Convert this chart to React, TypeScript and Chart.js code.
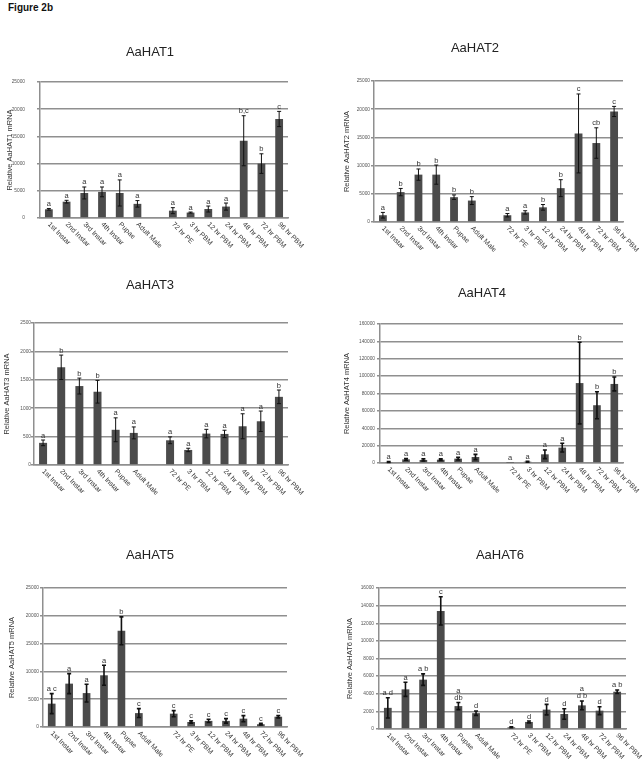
import React, { useEffect, useRef } from "react";
import { Chart, registerables } from "chart.js";

Chart.register(...registerables);

const categories = [
  "1st Instar", "2nd Instar", "3rd Instar", "4th Instar", "Pupae", "Adult Male", "",
  "72 hr PE", "3 hr PBM", "12 hr PBM", "24 hr PBM", "48 hr PBM", "72 hr PBM", "96 hr PBM",
];

const hat1Values = [1600, 3000, 4600, 4800, 4600, 2600, null, 1350, 1000, 1650, 2100, 14200, 10000, 18200];
const hat1Errors = [150, 250, 1100, 900, 2400, 600, null, 550, 100, 550, 650, 4600, 1800, 1400];
const hat1Letters = ["a", "a", "a", "a", "a", "a", "", "a", "a", "a", "a", "b,c", "b", "c"];

const hat2Values = [1200, 5300, 8400, 8400, 4400, 3800, null, 1200, 1700, 2600, 6000, 15700, 14000, 19600];
const hat2Errors = [500, 650, 1000, 1700, 400, 700, null, 300, 300, 500, 1500, 7000, 2700, 900];
const hat2Letters = ["a", "b", "b", "b", "b", "b", "", "a", "a", "b", "b", "c", "cb", "c"];

const hat3Values = [390, 1720, 1390, 1290, 620, 565, null, 435, 265, 553, 547, 682, 770, 1200];
const hat3Errors = [50, 215, 140, 200, 210, 105, null, 60, 30, 75, 65, 220, 180, 120];
const hat3Letters = ["a", "b", "b", "b", "a", "a", "", "a", "a", "a", "a", "a", "a", "b"];

const hat4Values = [1100, 4200, 3500, 3800, 5000, 6900, null, 300, 1500, 10000, 17700, 92000, 66500, 91000];
const hat4Errors = [500, 1000, 1200, 1000, 1500, 3000, null, 0, 500, 5000, 5000, 47000, 15500, 8000];
const hat4Letters = ["a", "a", "a", "a", "a", "a", "", "a", "a", "a", "a", "b", "b", "b"];

const hat5Values = [4200, 7800, 6100, 9300, 17300, 2500, null, 2400, 900, 1100, 1100, 1500, 500, 1850];
const hat5Errors = [1800, 1800, 1600, 1800, 2500, 800, null, 550, 200, 300, 400, 550, 150, 200];
const hat5Letters = ["a c", "a", "a", "a", "b", "c", "", "c", "c", "c", "c", "c", "c", "c"];

const hat6Values = [2400, 4500, 5600, 13400, 2600, 1800, null, 190, 800, 2200, 1700, 2680, 2080, 4230];
const hat6Errors = [1150, 800, 650, 1600, 400, 250, null, 50, 100, 600, 600, 500, 450, 200];
const hat6Letters = ["a d", "a", "a b", "c", "a\ndb", "d", "", "d", "d", "d", "d", "a\nd b", "d", "a b"];

const FONT = "'Liberation Sans', Arial, Helvetica, sans-serif";
const BAR = "#4b4b4b";
const GRID = "#8f8f8f";
const TEXT = "#333333";

type Box = { left: number; top: number; width: number; height: number };
type Plot = { l: number; r: number; t: number; b: number };
type PanelDef = {
  name: string;
  values: (number | null)[];
  errors: (number | null)[];
  letters: string[];
  max: number;
  step: number;
  box: Box;
  plot: Plot;
  titleX: number;
  titleY: number;
  yTitleX: number;
  tickPad: number;
  errWidth: number;
};

const panels: PanelDef[] = [
  {
    name: "AaHAT1", values: hat1Values, errors: hat1Errors, letters: hat1Letters,
    max: 25000, step: 5000,
    box: { left: 0, top: 30, width: 320, height: 232 },
    plot: { l: 40, r: 288, t: 82, b: 218 },
    titleX: 150, titleY: 52, yTitleX: 10, tickPad: 12, errWidth: 1,
  },
  {
    name: "AaHAT2", values: hat2Values, errors: hat2Errors, letters: hat2Letters,
    max: 25000, step: 5000,
    box: { left: 322, top: 30, width: 322, height: 232 },
    plot: { l: 374, r: 623, t: 81, b: 222 },
    titleX: 475, titleY: 48, yTitleX: 347, tickPad: 1, errWidth: 1,
  },
  {
    name: "AaHAT3", values: hat3Values, errors: hat3Errors, letters: hat3Letters,
    max: 2500, step: 500,
    box: { left: 0, top: 270, width: 320, height: 250 },
    plot: { l: 34, r: 288, t: 323, b: 465 },
    titleX: 150, titleY: 285, yTitleX: 7, tickPad: 0, errWidth: 1,
  },
  {
    name: "AaHAT4", values: hat4Values, errors: hat4Errors, letters: hat4Letters,
    max: 160000, step: 20000,
    box: { left: 322, top: 270, width: 322, height: 250 },
    plot: { l: 380, r: 623, t: 324, b: 463 },
    titleX: 482, titleY: 293, yTitleX: 347, tickPad: 2, errWidth: 1.6,
  },
  {
    name: "AaHAT5", values: hat5Values, errors: hat5Errors, letters: hat5Letters,
    max: 25000, step: 5000,
    box: { left: 0, top: 530, width: 320, height: 232 },
    plot: { l: 43, r: 287, t: 588, b: 727 },
    titleX: 150, titleY: 555, yTitleX: 12, tickPad: 1, errWidth: 1.6,
  },
  {
    name: "AaHAT6", values: hat6Values, errors: hat6Errors, letters: hat6Letters,
    max: 16000, step: 2000,
    box: { left: 322, top: 530, width: 322, height: 232 },
    plot: { l: 379, r: 626, t: 588, b: 729 },
    titleX: 500, titleY: 555, yTitleX: 350, tickPad: 2, errWidth: 1.6,
  },
];

function Panel({ def }: { def: PanelDef }) {
  const ref = useRef<HTMLCanvasElement | null>(null);

  useEffect(() => {
    const canvas = ref.current;
    if (!canvas) return;
    const { box, plot } = def;
    const yTitleLine = 7.5 * 1.2;

    const decor = {
      id: "panelDecor",
      afterDatasetsDraw(chart: any) {
        const ctx = chart.ctx;
        const yScale = chart.scales.y;
        const xScale = chart.scales.x;
        const meta = chart.getDatasetMeta(0);
        const area = chart.chartArea;
        ctx.save();
        // error bars and letters
        def.values.forEach((v, i) => {
          if (v === null || v === undefined) return;
          const e = def.errors[i] || 0;
          const x = meta.data[i].x;
          const yTop = yScale.getPixelForValue(v + e);
          const yBot = yScale.getPixelForValue(Math.max(0, v - e));
          if (e > 0) {
            ctx.strokeStyle = "#111111";
            ctx.lineWidth = def.errWidth;
            ctx.beginPath();
            ctx.moveTo(x, yTop);
            ctx.lineTo(x, yBot);
            ctx.moveTo(x - 2, yTop);
            ctx.lineTo(x + 2, yTop);
            ctx.moveTo(x - 2, yBot);
            ctx.lineTo(x + 2, yBot);
            ctx.stroke();
          }
          const letter = def.letters[i];
          if (letter) {
            const lines = letter.split("\n");
            ctx.fillStyle = TEXT;
            ctx.font = `7.5px ${FONT}`;
            ctx.textAlign = "center";
            ctx.textBaseline = "alphabetic";
            const base = Math.min(yTop, yScale.getPixelForValue(v)) - 2.5;
            for (let k = 0; k < lines.length; k++) {
              const y = base - (lines.length - 1 - k) * 7.5;
              ctx.fillText(lines[k], x, y);
            }
          }
        });
        // rotated category labels
        ctx.fillStyle = TEXT;
        ctx.font = `7px ${FONT}`;
        ctx.textAlign = "left";
        ctx.textBaseline = "middle";
        categories.forEach((lab, i) => {
          if (!lab) return;
          const x = xScale.getPixelForValue(i);
          ctx.save();
          ctx.translate(x, area.bottom + 5.5);
          ctx.rotate(Math.PI / 4);
          ctx.fillText(lab, 0, 0);
          ctx.restore();
        });
        // panel title
        ctx.fillStyle = "#222222";
        ctx.font = `13px ${FONT}`;
        ctx.textAlign = "center";
        ctx.textBaseline = "middle";
        ctx.fillText(def.name, def.titleX - box.left, def.titleY - box.top);
        ctx.restore();
      },
    };

    const chart = new Chart(canvas, {
      type: "bar",
      data: {
        labels: categories,
        datasets: [
          {
            data: def.values as any,
            backgroundColor: BAR,
            borderWidth: 0,
            barPercentage: 0.44,
            categoryPercentage: 1,
          },
        ],
      },
      options: {
        responsive: false,
        animation: false,
        events: [],
        layout: {
          padding: {
            left: 0,
            top: plot.t - box.top,
            right: box.left + box.width - plot.r,
            bottom: 0,
          },
        },
        plugins: {
          legend: { display: false },
          tooltip: { enabled: false },
          title: { display: false },
        },
        scales: {
          x: {
            type: "category",
            grid: { display: false, drawTicks: false },
            border: { display: true, color: GRID, width: 1.5 },
            ticks: { display: false },
            afterFit: (s: any) => {
              s.height = box.top + box.height - plot.b;
            },
          },
          y: {
            min: 0,
            max: def.max,
            ticks: {
              stepSize: def.step,
              font: { size: 4.8, family: FONT },
              color: "#555555",
              padding: def.tickPad,
              callback: (v: any) => String(v),
            },
            grid: { color: GRID, lineWidth: 1.5, tickLength: 3, drawTicks: true },
            border: { display: true, color: GRID, width: 1.5 },
            title: {
              display: true,
              text: `Relative ${def.name} mRNA`,
              color: TEXT,
              font: { size: 7.5, family: FONT },
              padding: { top: def.yTitleX - box.left - yTitleLine / 2, bottom: 0 },
            },
            afterFit: (s: any) => {
              s.width = plot.l - box.left;
            },
          },
        },
      } as any,
      plugins: [decor],
    });
    return () => chart.destroy();
  }, [def]);

  return (
    <canvas
      ref={ref}
      width={def.box.width}
      height={def.box.height}
      style={{
        position: "absolute",
        left: def.box.left,
        top: def.box.top,
        width: def.box.width,
        height: def.box.height,
      }}
    />
  );
}

export default function App() {
  return (
    <div
      style={{
        position: "absolute",
        left: 0,
        top: 0,
        width: 644,
        height: 762,
        background: "#ffffff",
        overflow: "hidden",
      }}
    >
      <div
        style={{
          position: "absolute",
          left: 8,
          top: 3,
          fontFamily: "Arial, 'Liberation Sans', sans-serif",
          fontWeight: "bold",
          fontSize: 10,
          lineHeight: "10px",
          color: "#111",
        }}
      >
        Figure 2b
      </div>
      {panels.map((p) => (
        <Panel key={p.name} def={p} />
      ))}
    </div>
  );
}
